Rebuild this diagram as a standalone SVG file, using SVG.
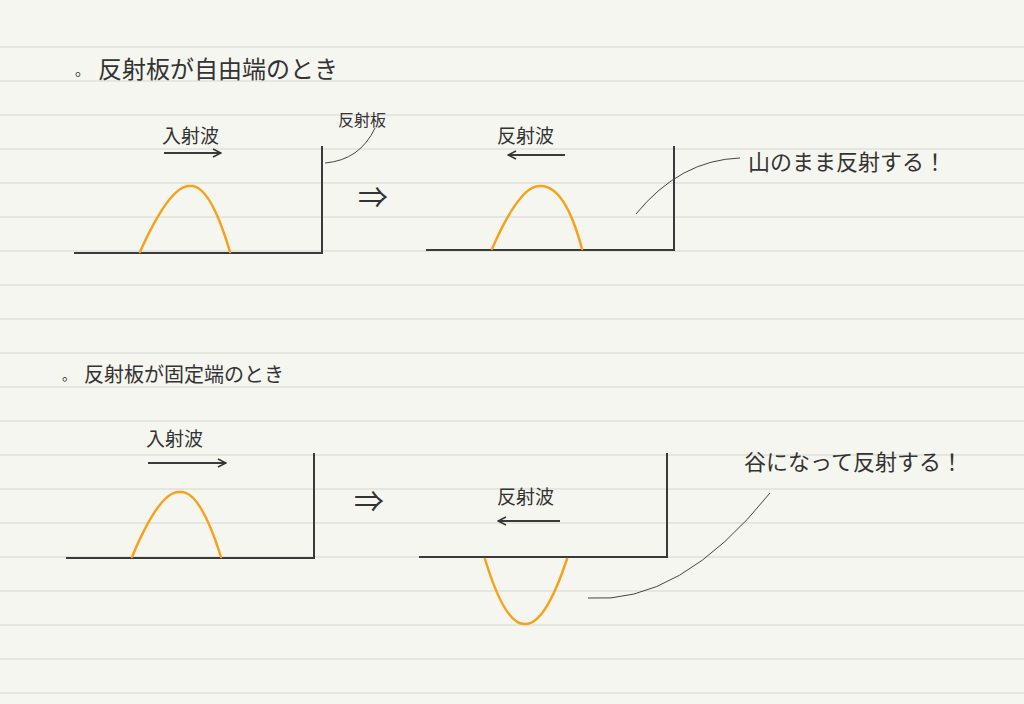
<svg xmlns="http://www.w3.org/2000/svg" width="1024" height="704" viewBox="0 0 1024 704">
<style>
.rule{stroke:#d6d6d2;stroke-width:1}
.ax{stroke:#3a3a3a;stroke-width:2;fill:none}
.wave{stroke:#f7a21b;stroke-width:2.5;fill:none;stroke-linecap:round}
.thin{stroke:#444;stroke-width:1;fill:none}
.t{font-family:"Noto Sans CJK JP","Noto Sans",sans-serif;fill:#333}
</style>
<defs><marker id="ah" markerWidth="10" markerHeight="10" refX="9" refY="5" orient="auto" markerUnits="userSpaceOnUse"><path d="M1 1L9 5L1 9" fill="none" stroke="#333" stroke-width="1.5"/></marker></defs>
<rect width="1024" height="704" fill="#f6f6f0"/>
<g id="rules">
<line class="rule" x1="0" y1="47" x2="1024" y2="47"/><line class="rule" x1="0" y1="81" x2="1024" y2="81"/><line class="rule" x1="0" y1="115" x2="1024" y2="115"/><line class="rule" x1="0" y1="149" x2="1024" y2="149"/><line class="rule" x1="0" y1="183" x2="1024" y2="183"/><line class="rule" x1="0" y1="217" x2="1024" y2="217"/><line class="rule" x1="0" y1="251" x2="1024" y2="251"/><line class="rule" x1="0" y1="285" x2="1024" y2="285"/><line class="rule" x1="0" y1="319" x2="1024" y2="319"/><line class="rule" x1="0" y1="353" x2="1024" y2="353"/><line class="rule" x1="0" y1="387" x2="1024" y2="387"/><line class="rule" x1="0" y1="421" x2="1024" y2="421"/><line class="rule" x1="0" y1="455" x2="1024" y2="455"/><line class="rule" x1="0" y1="489" x2="1024" y2="489"/><line class="rule" x1="0" y1="523" x2="1024" y2="523"/><line class="rule" x1="0" y1="557" x2="1024" y2="557"/><line class="rule" x1="0" y1="591" x2="1024" y2="591"/><line class="rule" x1="0" y1="625" x2="1024" y2="625"/><line class="rule" x1="0" y1="659" x2="1024" y2="659"/><line class="rule" x1="0" y1="693" x2="1024" y2="693"/>
</g>
<g id="texts">
<text class="t" x="75" y="75" font-size="15">。</text>
<text class="t" x="98" y="78" font-size="24">反射板が自由端のとき</text>
<text class="t" x="62" y="380" font-size="14">。</text>
<text class="t" x="84" y="382" font-size="20">反射板が固定端のとき</text>
<text class="t" x="162" y="143" font-size="19">入射波</text>
<text class="t" x="497" y="143" font-size="19">反射波</text>
<text class="t" x="338" y="126" font-size="16">反射板</text>
<text class="t" x="748" y="170" font-size="22">山のまま反射する！</text>
<text class="t" x="146" y="446" font-size="19">入射波</text>
<text class="t" x="497" y="504" font-size="19">反射波</text>
<text class="t" x="744" y="470" font-size="22">谷になって反射する！</text>
<text class="t" x="358" y="208" font-size="30">⇒</text>
<text class="t" x="354" y="512" font-size="30">⇒</text>
</g>
<g id="connectors">
<path class="ax" d="M74 253H322V146"/>
<path class="ax" d="M426 250H674V146"/>
<path class="ax" d="M66 558H314V453"/>
<path class="ax" d="M419 557H667V453"/>
<path class="wave" d="M140 252Q170 185 190 186Q210 184 230 252"/>
<path class="wave" d="M492 249Q520 185 540 186Q565 185 582 249"/>
<path class="wave" d="M132 557Q160 490 180 492Q200 490 221 557"/>
<path class="wave" d="M485 559Q505 625 525 624Q545 625 567 559"/>
<line class="ax" x1="164" y1="153" x2="221" y2="153" stroke-width="1.8" marker-end="url(#ah)"/>
<line class="ax" x1="565" y1="155" x2="508" y2="155" stroke-width="1.8" marker-end="url(#ah)"/>
<line class="ax" x1="148" y1="463" x2="226" y2="463" stroke-width="1.8" marker-end="url(#ah)"/>
<line class="ax" x1="560" y1="521" x2="498" y2="521" stroke-width="1.8" marker-end="url(#ah)"/>
<path class="thin" d="M325 163Q360 160 375 128"/>
<path class="thin" d="M636 214Q680 160 740 158"/>
<path class="thin" d="M588 598Q680 605 770 493"/>
</g>
</svg>
